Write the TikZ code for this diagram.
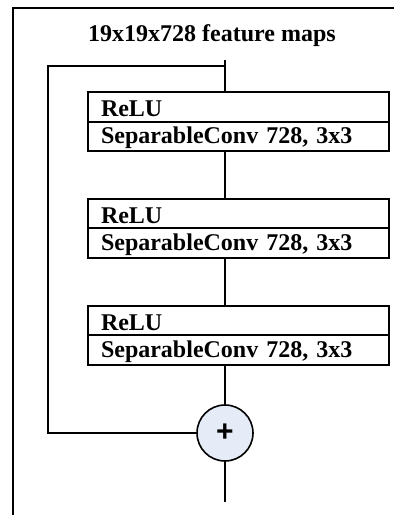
\documentclass[tikz,border=0pt]{standalone}
\usepackage{fontspec}
\setmainfont{Liberation Serif}
\newfontfamily\plusfont{Liberation Sans}
\usetikzlibrary{positioning}
\definecolor{sumfill}{HTML}{E6ECF7}
\tikzset{
  cell/.style={draw, line width=1.6pt, outer sep=0pt, minimum width=301pt,
    text width=275pt, inner xsep=13pt, inner ysep=0pt, align=left,
    text height=22pt, text depth=7.5pt, font=\bfseries\fontsize{24}{26}\selectfont},
  actcell/.style={cell, text height=24.5pt, text depth=5pt},
  sum/.style={draw, circle, line width=1.6pt, outer sep=0pt, fill=sumfill,
    minimum size=56pt, inner sep=0pt, font=\plusfont\bfseries\fontsize{30}{30}\selectfont},
  link/.style={line width=1.6pt}
}
\begin{document}
\begin{tikzpicture}[x=1pt,y=1pt]
\clip (0,0) rectangle (394,515);
\useasboundingbox (0,0) rectangle (394,515);
\draw[line width=1.6pt] (13,-10) |- (410,507);

\node (title) at (212,479) {\bfseries\fontsize{24}{26}\selectfont 19x19x728 feature maps};
\coordinate (in) at (225,455);
\coordinate (split) at (225,449);
\coordinate (skip) at (48,449);

\node[actcell] (relu1) at (238.5,408) {ReLU};
\node[cell, below=0pt of relu1] (conv1) {SeparableConv 728, 3x3};

\node[actcell] (relu2) at (238.5,301.5) {ReLU};
\node[cell, below=0pt of relu2] (conv2) {SeparableConv 728, 3x3};

\node[actcell] (relu3) at (238.5,194.5) {ReLU};
\node[cell, below=0pt of relu3] (conv3) {SeparableConv 728, 3x3};

\node[sum] (sum) at (225,82) {+};
\coordinate (out) at (225,13);

\draw[link] (in) -- (relu1.north -| in);
\draw[link] (conv1.south -| in) -- (relu2.north -| in);
\draw[link] (conv2.south -| in) -- (relu3.north -| in);
\draw[link] (conv3.south -| in) -- (sum.north);
\draw[link] (split) -- (skip) |- (sum.west);
\draw[link] (sum.south) -- (out);
\end{tikzpicture}
\end{document}
